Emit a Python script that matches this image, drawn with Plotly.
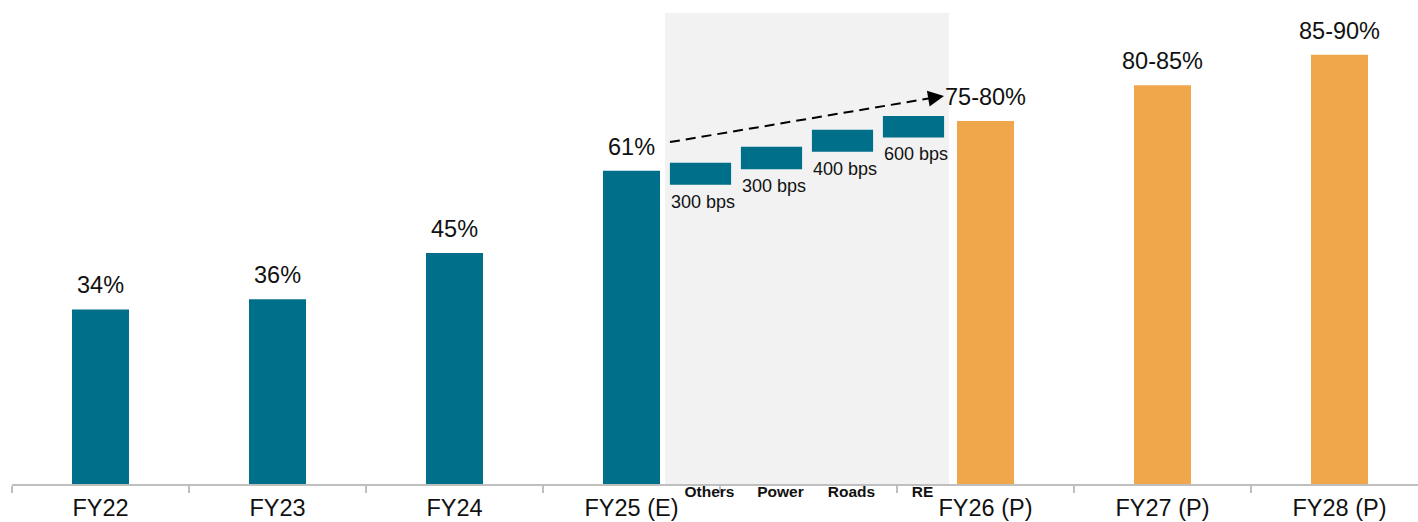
import plotly.graph_objects as go

# --- data -------------------------------------------------------------
categories = ["FY22", "FY23", "FY24", "FY25 (E)", " ", "FY26 (P)", "FY27 (P)", "FY28 (P)"]

actual_years = ["FY22", "FY23", "FY24", "FY25 (E)"]
actual_values = [34, 36, 45, 61]
actual_labels = ["34%", "36%", "45%", "61%"]

proj_years = ["FY26 (P)", "FY27 (P)", "FY28 (P)"]
proj_values = [70.7, 77.7, 83.6]
proj_labels = ["75-80%", "80-85%", "85-90%"]

drivers = ["Others", "Power", "Roads", "RE"]
driver_low = [58.3, 61.3, 64.7, 67.5]
driver_high = [62.6, 65.7, 69.0, 71.7]
driver_labels = ["300 bps", "300 bps", "400 bps", "600 bps"]

# trend arrow across the bridge (x on driver axis, y in %)
trend_start = (-0.43, 66.6)
trend_end = (3.43, 75.6)

TEAL = "#006F8A"
ORANGE = "#F0A64B"
SHADE = "#F2F2F2"
AXIS = "#BFBFBF"
FONT = "Arial, Liberation Sans, sans-serif"
INK = "#111111"

# bridge panel position within the plot width
BRIDGE_DOMAIN = [(665 - 12) / 1406, (949 - 12) / 1406]

# --- figure -----------------------------------------------------------
fig = go.Figure()

fig.add_bar(x=actual_years, y=actual_values, width=0.322,
            marker=dict(color=TEAL, line=dict(width=0)), hoverinfo="skip")
fig.add_bar(x=proj_years, y=proj_values, width=0.322,
            marker=dict(color=ORANGE, line=dict(width=0)), hoverinfo="skip")
fig.add_bar(x=drivers, y=[h - l for l, h in zip(driver_low, driver_high)],
            base=driver_low, width=0.862, xaxis="x2", yaxis="y",
            marker=dict(color=TEAL, line=dict(width=0)), hoverinfo="skip")

# value labels over the yearly bars
for cat, val, lab in zip(actual_years + proj_years,
                         actual_values + proj_values,
                         actual_labels + proj_labels):
    fig.add_annotation(x=cat, y=val, text=lab, showarrow=False,
                       xref="x", yref="y", yanchor="bottom", yshift=9,
                       font=dict(family=FONT, size=23.5, color=INK))

# bps labels under each bridge step
for cat, low, lab in zip(drivers, driver_low, driver_labels):
    fig.add_annotation(x=cat, y=low, text=lab, showarrow=False,
                       xref="x2", yref="y", yanchor="top", yshift=-5, xshift=2,
                       font=dict(family=FONT, size=18, color=INK))

# dashed trend line with arrow head
slope = (trend_end[1] - trend_start[1]) / (trend_end[0] - trend_start[0])
fig.add_shape(type="line", xref="x2", yref="y",
              x0=trend_start[0], y0=trend_start[1],
              x1=trend_end[0] - 0.2, y1=trend_end[1] - 0.2 * slope,
              line=dict(color="black", width=2, dash="10px,6px"))
fig.add_annotation(x=trend_end[0], y=trend_end[1], xref="x2", yref="y",
                   ax=-16, ay=2.7, text="", showarrow=True,
                   arrowhead=2, arrowsize=1.6, arrowwidth=2, arrowcolor="black",
                   standoff=0)

# shaded bridge panel
fig.add_shape(type="rect", xref="paper", yref="paper",
              x0=BRIDGE_DOMAIN[0], x1=BRIDGE_DOMAIN[1], y0=0, y1=1,
              fillcolor=SHADE, line=dict(width=0), layer="below")

fig.update_layout(
    width=1418, height=522,
    margin=dict(l=12, r=0, t=13, b=38),
    paper_bgcolor="white", plot_bgcolor="rgba(0,0,0,0)",
    showlegend=False, barmode="overlay",
    font=dict(family=FONT, color=INK),
    xaxis=dict(type="category", categoryorder="array", categoryarray=categories,
               range=[-0.5, 7.4435], tickson="boundaries",
               ticks="outside", ticklen=7, tickwidth=1.5, tickcolor=AXIS,
               showline=True, linecolor=AXIS, linewidth=2,
               showgrid=False, zeroline=False, ticklabelstandoff=2,
               tickfont=dict(family=FONT, size=23.5, color=INK)),
    xaxis2=dict(type="category", categoryorder="array", categoryarray=drivers,
                domain=BRIDGE_DOMAIN, anchor="y",
                range=[-0.5, 3.5], showline=False, ticks="", showgrid=False,
                zeroline=False, ticklabelshift=9, ticklabelstandoff=-4,
                tickfont=dict(family=FONT, size=15.5, color=INK, weight="bold")),
    yaxis=dict(range=[0, 91.75], visible=False, showgrid=False, zeroline=False),
)

fig.write_html("out.html")
